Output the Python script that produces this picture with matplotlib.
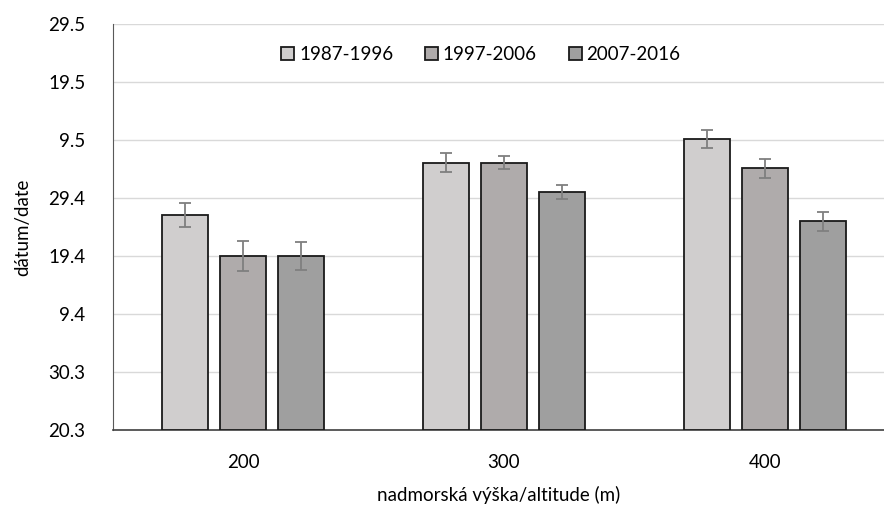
import matplotlib.pyplot as plt
import numpy as np

plt.rcParams['font.family'] = ['Lato', 'DejaVu Sans']

altitudes = ['200', '300', '400']
periods = ['1987-1996', '1997-2006', '2007-2016']
# days counted from 20.3
means = {
    '1987-1996': [37.1, 46.1, 50.1],
    '1997-2006': [30.0, 46.1, 45.1],
    '2007-2016': [30.0, 41.1, 36.0],
}
errors = {
    '1987-1996': [2.1, 1.6, 1.55],
    '1997-2006': [2.6, 1.1, 1.7],
    '2007-2016': [2.45, 1.2, 1.67],
}
tick_days = [0, 10, 20, 30, 40, 50, 60, 70]
tick_labels = ['20.3', '30.3', '9.4', '19.4', '29.4', '9.5', '19.5', '29.5']
colors = ['#D0CECE', '#AFABAB', '#9F9F9F']

fig = plt.figure(figsize=(8.84, 5.13), dpi=100)
ax = fig.add_axes([0.1278, 0.1618, 0.8722, 0.7914])

x = np.arange(len(altitudes))
width = 0.176
offset = 0.222
for i, p in enumerate(periods):
    ax.bar(x + (i - 1) * offset, means[p], width, yerr=errors[p],
           color=colors[i], edgecolor='#1a1a1a', linewidth=1.3, label=p,
           error_kw=dict(ecolor='#7f7f7f', elinewidth=1.3, capsize=4, capthick=1.3),
           zorder=3)

ax.set_xlim(-0.498, 2.456)
ax.set_ylim(0, 70)
ax.set_yticks(tick_days)
ax.set_yticklabels(tick_labels)
ax.set_xticks(x)
ax.set_xticklabels(altitudes)
ax.tick_params(length=0, labelsize=13.5, colors='#000000')
ax.tick_params(axis='x', pad=17)
ax.tick_params(axis='y', pad=20)
ax.grid(axis='y', color='#D9D9D9', linewidth=1, zorder=0)

for s in ['top', 'right']:
    ax.spines[s].set_visible(False)
ax.spines['left'].set_color('#595959')
ax.spines['bottom'].set_color('#404040')
ax.spines['bottom'].set_linewidth(1.2)

ax.set_ylabel('dátum/date', fontsize=13.5, labelpad=12)
ax.set_xlabel('nadmorská výška/altitude (m)', fontsize=13.5, labelpad=11)

ax.legend(loc='center', bbox_to_anchor=(0.544, 0.894), bbox_transform=fig.transFigure,
          ncol=3, frameon=False, fontsize=13.5, handlelength=0.7, handleheight=0.7,
          handletextpad=0.25, columnspacing=1.7)

fig.savefig('out.png', dpi=100)
